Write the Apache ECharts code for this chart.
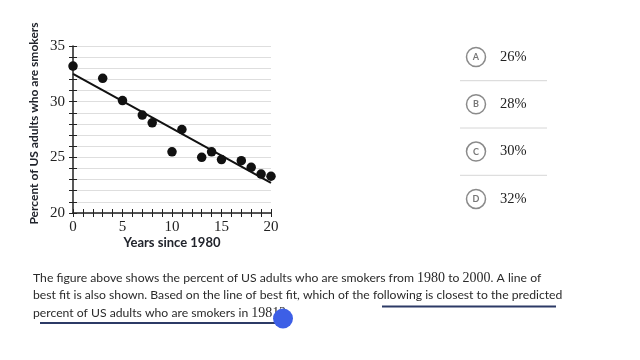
<!DOCTYPE html>
<html>
<head>
<meta charset="utf-8">
<script src="https://cdn.jsdelivr.net/npm/echarts@6/dist/echarts.min.js"></script>
<style>
html,body{margin:0;padding:0;background:#fff;}
#chart{width:640px;height:360px;}
</style>
</head>
<body>
<div id="chart"></div>
<script>
// Data
var years = [0, 3, 5, 7, 8, 10, 11, 13, 14, 15, 17, 18, 19, 20];
var smokersPct = [33.2, 32.1, 30.1, 28.8, 28.1, 25.5, 27.5, 25.0, 25.5, 24.8, 24.7, 24.1, 23.5, 23.3];
var fitYears = [0, 20];
var fitPct = [32.5, 22.7];
var xLabelValues = [0, 5, 10, 15, 20];
var yLabelValues = [20, 25, 30, 35];
var optionLetters = ['A', 'B', 'C', 'D'];
var optionTexts = ['26%', '28%', '30%', '32%'];
var questionLines = [
  'The figure above shows the percent of US adults who are smokers from {n|1980} to {n|2000}. A line of',
  'best fit is also shown. Based on the line of best fit, which of the following is closest to the predicted',
  'percent of US adults who are smokers in {n|1981?}'
];

var chart = echarts.init(document.getElementById('chart'), null, {renderer: 'canvas'});

var points = years.map(function (x, i) { return [x, smokersPct[i]]; });
var fitLine = fitYears.map(function (x, i) { return [x, fitPct[i]]; });

var serif = '"Liberation Serif", "DejaVu Serif", serif';
var sans = 'Lato, "Open Sans", sans-serif';

function labelFmt(list) {
  return function (v) { return list.indexOf(v) >= 0 ? String(v) : ''; };
}

var graphics = [];
// answer options
var optY0 = 57, optStep = 47.3;
optionLetters.forEach(function (L, i) {
  var cy = optY0 + i * optStep;
  graphics.push({
    type: 'circle', shape: {cx: 476, cy: cy, r: 9.5},
    style: {fill: '#fff', stroke: '#8a8a8a', lineWidth: 1.5}, z: 10
  });
  graphics.push({
    type: 'text', x: 476, y: cy,
    style: {text: L, fill: '#777', font: 'bold 9px ' + sans, align: 'center', verticalAlign: 'middle'}, z: 11
  });
  graphics.push({
    type: 'text', x: 500, y: cy,
    style: {text: optionTexts[i], fill: '#222', font: '14.5px ' + serif, align: 'left', verticalAlign: 'middle'}, z: 11
  });
  if (i < optionLetters.length - 1) {
    graphics.push({
      type: 'line', shape: {x1: 460, y1: cy + 23.7, x2: 547, y2: cy + 23.7},
      style: {stroke: '#d6d6d6', lineWidth: 1}, z: 10
    });
  }
});
// question text
var lineYs = [278, 295.5, 313];
questionLines.forEach(function (t, i) {
  graphics.push({
    type: 'text', x: 33, y: lineYs[i],
    style: {
      text: t, fill: '#2a2a2a', font: '12.2px ' + sans, verticalAlign: 'middle', align: 'left',
      rich: {n: {fontFamily: serif, fontSize: 14, fill: '#2a2a2a', fontWeight: 'normal'}}
    }, z: 10
  });
});
// underlines
graphics.push({type: 'line', shape: {x1: 382, y1: 306.5, x2: 556, y2: 306.5}, style: {stroke: '#2c3a66', lineWidth: 2}, z: 10});
graphics.push({type: 'line', shape: {x1: 40, y1: 323, x2: 275, y2: 323}, style: {stroke: '#2c3a66', lineWidth: 2}, z: 10});
// blue pointer dot
graphics.push({type: 'circle', shape: {cx: 283, cy: 318.5, r: 10}, style: {fill: '#3d5fe6'}, z: 12});

var option = {
  backgroundColor: '#ffffff',
  animation: false,
  grid: {left: 73, right: 369, top: 46, bottom: 147, containLabel: false},
  xAxis: [{
    type: 'value', min: 0, max: 20, interval: 1,
    name: 'Years since 1980', nameLocation: 'middle', nameGap: 20,
    nameTextStyle: {fontFamily: sans, fontWeight: 'bold', fontSize: 13, color: '#21242c'},
    axisLine: {show: true, lineStyle: {color: '#222', width: 1.5}},
    axisTick: {show: true, length: 4, lineStyle: {color: '#222', width: 1}},
    axisLabel: {formatter: labelFmt(xLabelValues), fontFamily: serif, fontSize: 15, color: '#222', margin: 7},
    splitLine: {show: false}
  }, {
    type: 'value', min: 0, max: 20, interval: 1, position: 'bottom',
    axisLine: {show: false},
    axisTick: {show: true, inside: true, length: 4, lineStyle: {color: '#222', width: 1}},
    axisLabel: {show: false}, splitLine: {show: false}
  }],
  yAxis: [{
    type: 'value', min: 20, max: 35, interval: 1,
    name: 'Percent of US adults who are smokers', nameLocation: 'middle', nameGap: 33, nameRotate: 90,
    nameTextStyle: {fontFamily: sans, fontWeight: 'bold', fontSize: 12, color: '#21242c', padding: [0, 0, 0, 12]},
    axisLine: {show: true, lineStyle: {color: '#222', width: 1.5}},
    axisTick: {show: true, length: 4, lineStyle: {color: '#222', width: 1}},
    axisLabel: {formatter: labelFmt(yLabelValues), fontFamily: serif, fontSize: 15, color: '#222', margin: 8},
    splitLine: {show: true, lineStyle: {color: '#dedede', width: 1}}
  }, {
    type: 'value', min: 20, max: 35, interval: 1, position: 'left',
    axisLine: {show: false},
    axisTick: {show: true, inside: true, length: 4, lineStyle: {color: '#222', width: 1}},
    axisLabel: {show: false}, splitLine: {show: false}
  }],
  series: [{
    type: 'line', xAxisIndex: 0, yAxisIndex: 0, data: fitLine,
    showSymbol: false, symbol: 'none',
    lineStyle: {color: '#111', width: 2}, z: 3
  }, {
    type: 'scatter', xAxisIndex: 0, yAxisIndex: 0, data: points,
    symbolSize: 9.5, itemStyle: {color: '#111', opacity: 1}, z: 4
  }],
  graphic: graphics
};
chart.setOption(option);
</script>
</body>
</html>
